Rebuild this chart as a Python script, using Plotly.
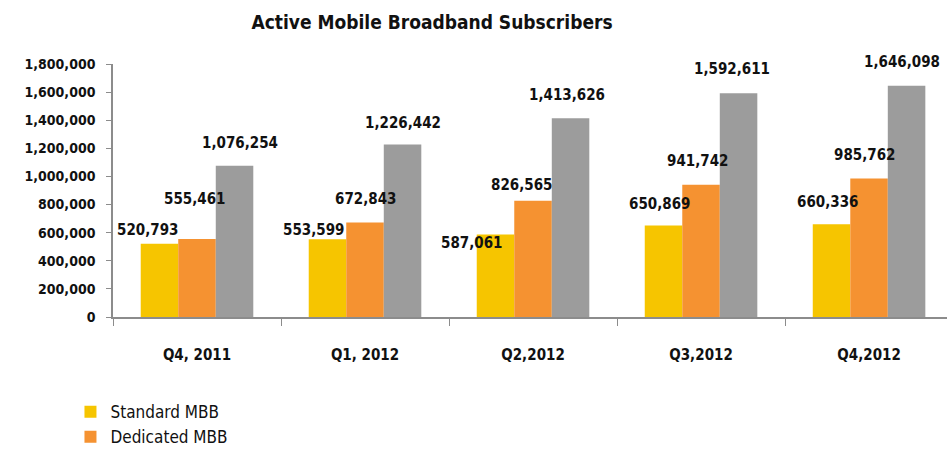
"""Active Mobile Broadband Subscribers - grouped bar chart"""

import plotly.graph_objects as go

# 数据
quarters = ["Q4, 2011", "Q1, 2012", "Q2,2012", "Q3,2012", "Q4,2012"]
standard_mbb = [520793, 553599, 587061, 650869, 660336]
dedicated_mbb = [555461, 672843, 826565, 941742, 985762]
total_mbb = [1076254, 1226442, 1413626, 1592611, 1646098]
y_ticks = [0, 200000, 400000, 600000, 800000, 1000000, 1200000, 1400000, 1600000, 1800000]

COLORS = {
    "standard": "#F6C500",
    "dedicated": "#F59231",
    "total": "#9C9C9C",
    "axis": "#8C8C8C",
    "text": "#111111",
}

FONT = "DejaVu Sans Condensed, Liberation Sans Narrow, Arial Narrow, sans-serif"

# 数据标签偏移（像素）：(xshift, yshift)
label_offsets = {
    "standard": [(-50, 14), (-52, 9), (-62, -9), (-42, 22), (-42, 22)],
    "dedicated": [(-3, 40), (0, 23), (-12, 16), (-4, 24), (-5, 23)],
    "total": [(43, 23), (38, 22), (34, 23), (31, 24), (33, 24)],
}

fig = go.Figure()
fig.add_trace(go.Bar(name="Standard MBB", x=quarters, y=standard_mbb,
                     marker=dict(color=COLORS["standard"], line=dict(width=0))))
fig.add_trace(go.Bar(name="Dedicated MBB", x=quarters, y=dedicated_mbb,
                     marker=dict(color=COLORS["dedicated"], line=dict(width=0))))
fig.add_trace(go.Bar(name="Total MBB", x=quarters, y=total_mbb, showlegend=False,
                     marker=dict(color=COLORS["total"], line=dict(width=0))))

for key, values in [("standard", standard_mbb), ("dedicated", dedicated_mbb), ("total", total_mbb)]:
    for q, v, (dx, dy) in zip(quarters, values, label_offsets[key]):
        fig.add_annotation(
            x=q, y=v, text=f"<b>{v:,}</b>", showarrow=False,
            xshift=dx, yshift=dy, yanchor="middle",
            font=dict(family=FONT, size=15, color=COLORS["text"]),
        )

fig.update_layout(
    width=947,
    height=449,
    paper_bgcolor="white",
    plot_bgcolor="white",
    barmode="group",
    bargap=0.33,
    bargroupgap=0,
    title=dict(
        text="<b>Active Mobile Broadband Subscribers</b>",
        x=432 / 947, xanchor="center", y=1 - 22 / 449, yanchor="middle",
        font=dict(family=FONT, size=19, color=COLORS["text"]),
    ),
    font=dict(family=FONT, color=COLORS["text"]),
    margin=dict(l=113, r=0, t=64, b=132, autoexpand=False),
    legend=dict(
        x=-0.051, xanchor="left", y=-0.305, yanchor="top",
        font=dict(family=FONT, size=17, color=COLORS["text"]),
        itemwidth=30, tracegroupgap=0,
    ),
    xaxis=dict(
        range=[-0.5, 4.464],
        showline=True, linecolor=COLORS["axis"], linewidth=1.5,
        ticks="outside", tickson="boundaries", ticklen=7, tickcolor=COLORS["axis"],
        ticklabelstandoff=23,
        tickfont=dict(family=FONT, size=15, color=COLORS["text"], weight="bold"),
        showgrid=False,
    ),
    yaxis=dict(
        range=[0, 1800000],
        tickvals=y_ticks,
        tickformat=",d",
        showline=True, linecolor=COLORS["axis"], linewidth=1.5,
        ticks="outside", ticklen=5, tickcolor=COLORS["axis"],
        ticklabelstandoff=8,
        tickfont=dict(family=FONT, size=14, color=COLORS["text"], weight="bold"),
        showgrid=False, zeroline=False,
    ),
)

# 去掉页面默认边距，让图表贴齐窗口左上角
fig.write_html(
    "out.html",
    config={"displayModeBar": False},
    post_script="document.body.style.margin='0';",
)
